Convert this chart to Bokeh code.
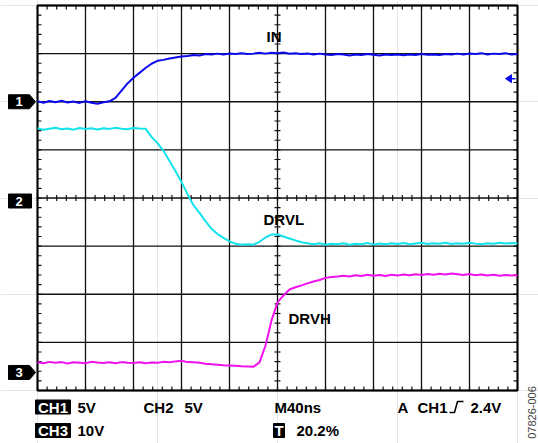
import numpy as np
from bokeh.plotting import figure
from bokeh.models import Range1d
from bokeh.core.properties import value
from bokeh.embed import file_html
from bokeh.resources import INLINE

# ---------------- data ----------------
time_ns = list(range(0, 401, 5))
ch1_in_v = [
    0.05, -0.10, 0.08, -0.05, 0.10, -0.08, 0.02, -0.12, 0.06, -0.10,
    -0.20, -0.05, 0.05, 0.40, 1.15, 1.90, 2.50, 3.00, 3.50, 3.95,
    4.25, 4.35, 4.50, 4.60, 4.70, 4.75, 4.85, 4.80, 4.95, 4.90,
    5.00, 4.90, 5.02, 4.95, 5.05, 4.95, 5.00, 5.08, 5.00, 5.10,
    5.05, 5.12, 4.98, 5.05, 4.95, 5.02, 4.90, 5.00, 4.92, 4.85,
    4.95, 4.90, 4.80, 4.90, 4.85, 4.95, 4.88, 4.80, 4.92, 4.85,
    4.90, 4.82, 4.90, 4.86, 4.95, 4.88, 4.92, 4.85, 4.95, 4.90,
    5.00, 4.92, 5.02, 4.95, 5.05, 4.90, 5.00, 4.95, 5.05, 4.90,
    4.95,
]
ch2_drvl_v = [
    7.25, 7.10, 7.20, 7.30, 7.15, 7.22, 7.10, 7.28, 7.18, 7.25,
    7.12, 7.25, 7.18, 7.30, 7.20, 7.15, 7.28, 7.22, 7.20, 6.35,
    5.70, 4.90, 3.85, 2.80, 1.65, 0.40, -0.75, -1.55, -2.40, -3.20,
    -3.75, -4.15, -4.50, -4.75, -4.85, -4.80, -4.85, -4.55, -4.10, -3.80,
    -3.80, -4.00, -4.20, -4.40, -4.60, -4.70, -4.80, -4.70, -4.85, -4.75,
    -4.80, -4.70, -4.85, -4.75, -4.80, -4.68, -4.82, -4.72, -4.80, -4.70,
    -4.78, -4.68, -4.80, -4.72, -4.66, -4.78, -4.70, -4.75, -4.65, -4.78,
    -4.70, -4.76, -4.66, -4.74, -4.80, -4.70, -4.75, -4.66, -4.72, -4.68,
    -4.72,
]
ch3_drvh_v = [
    2.10, 1.90, 2.20, 2.00, 2.15, 1.85, 2.10, 2.00, 1.90, 2.20,
    2.05, 1.95, 2.10, 1.90, 2.15, 2.00, 1.95, 2.10, 1.90, 2.05,
    2.00, 2.20, 2.10, 2.30, 2.45, 2.15, 2.10, 2.00, 1.80, 1.70,
    1.60, 1.50, 1.45, 1.40, 1.30, 1.25, 1.20, 2.10, 5.60, 10.80,
    14.55, 16.00, 17.25, 17.70, 18.10, 18.50, 18.90, 19.20, 19.65, 19.85,
    19.95, 20.10, 19.95, 20.20, 20.05, 20.30, 20.10, 20.25, 20.05, 20.30,
    20.15, 20.35, 20.20, 20.40, 20.25, 20.45, 20.30, 20.50, 20.35, 20.55,
    20.40, 20.25, 20.45, 20.20, 20.35, 20.15, 20.30, 20.10, 20.25, 20.15,
    20.20,
]
trace_names = ["IN", "DRVL", "DRVH"]
channel_ids = ["1", "2", "3"]
volts_per_div = [5, 5, 10]
ground_div = [6.0, 4.0, 0.375]
trace_colors = ["#0a0aec", "#12e4ec", "#f012ec"]
time_per_div_ns = 40
n_xdiv, n_ydiv = 10, 8
trigger_channel = 0
trigger_level_v = 2.4
status_row1 = [("CH1", True), ("5V", False), ("CH2", False), ("5V", False),
               ("M40ns", False), ("A", False), ("CH1", False), ("2.4V", False)]
status_row2 = [("CH3", True), ("10V", False), ("T", True), ("20.2%", False)]
figure_id = "07826-006"

# ---------------- layout helpers (picture pixel -> data) ----------------
W, H = 538, 443
FRAME_L, FRAME_T = 37, 5
PX_PER_NS = 1.2
PX_PER_DIV = 48.125


def X(px):
    return (px - FRAME_L) / PX_PER_NS


def Y(py):
    return n_ydiv - (py - FRAME_T) / PX_PER_DIV


dx = 1 / PX_PER_NS
dy = 1 / PX_PER_DIV
T_END = n_xdiv * time_per_div_ns

p = figure(width=W, height=H, output_backend="svg", toolbar_location=None,
           x_range=Range1d(X(0), X(W)), y_range=Range1d(Y(H), Y(0)),
           x_axis_location=None, y_axis_location=None, min_border=0)
p.outline_line_color = None
p.background_fill_color = "white"
p.border_fill_color = "white"

FONT = value("Liberation Sans")

# grid
gx = [i * time_per_div_ns for i in range(n_xdiv + 1)]
gy = list(range(n_ydiv + 1))
p.segment(x0=gx, y0=[0] * len(gx), x1=gx, y1=[n_ydiv] * len(gx),
          line_color="#111111", line_width=1.3)
p.segment(x0=[0] * len(gy), y0=gy, x1=[T_END] * len(gy), y1=gy,
          line_color="#111111", line_width=1.3)

# minor ticks (5 per division) on the border and on the centre lines
tx = [k * time_per_div_ns / 5 for k in range(n_xdiv * 5 + 1)]
ty = [k / 5 for k in range(n_ydiv * 5 + 1)]
tick = 4
x0s, y0s, x1s, y1s = [], [], [], []
for t in tx:
    x0s += [t, t, t]
    y0s += [n_ydiv, 0, n_ydiv / 2 - 3 * dy]
    x1s += [t, t, t]
    y1s += [n_ydiv - tick * dy, tick * dy, n_ydiv / 2 + 3 * dy]
for v in ty:
    x0s += [0, T_END, T_END / 2 - 3 * dx]
    y0s += [v, v, v]
    x1s += [tick * dx, T_END - tick * dx, T_END / 2 + 3 * dx]
    y1s += [v, v, v]
p.segment(x0=x0s, y0=y0s, x1=x1s, y1=y1s, line_color="#111111", line_width=1.2)

# frame border
p.rect(x=[T_END / 2], y=[n_ydiv / 2], width=[T_END], height=[n_ydiv],
       fill_color=None, line_color="black", line_width=2)

# traces
series = [ch1_in_v, ch2_drvl_v, ch3_drvh_v]
for vals, g, s, c in zip(series, ground_div, volts_per_div, trace_colors):
    yy = [g + v / s for v in vals]
    p.line(time_ns, yy, line_color=c, line_width=2.0)

# trace labels
lab_pos = [(266, 35.5), (263, 218.5), (288, 318)]
p.text(x=[X(a) for a, b in lab_pos], y=[Y(b) for a, b in lab_pos], text=trace_names,
       text_font=FONT, text_font_style="bold", text_font_size="15px",
       text_baseline="middle", text_align="left", text_color="black")

# channel ground markers
mxs, mys, mtx, mty = [], [], [], []
for i, g in enumerate(ground_div):
    cy = g if i != 1 else g - 3 * dy
    if i == 1:
        xs = [X(8), X(31), X(31), X(8)]
        ys = [cy + 7 * dy, cy + 7 * dy, cy - 7 * dy, cy - 7 * dy]
    else:
        xs = [X(8), X(29), X(35), X(29), X(8)]
        ys = [cy + 7 * dy, cy + 7 * dy, cy, cy - 7 * dy, cy - 7 * dy]
    mxs.append(xs)
    mys.append(ys)
    mtx.append(X(18.5))
    mty.append(cy)
p.patches(mxs, mys, fill_color="black", line_color="black")
p.text(x=mtx, y=mty, text=channel_ids, text_font=FONT, text_font_style="bold",
       text_font_size="13px", text_baseline="middle", text_align="center",
       text_color="white")

# trigger level marker (right edge)
trig_y = ground_div[trigger_channel] + trigger_level_v / volts_per_div[trigger_channel]
p.patch([X(505), X(511), X(511)], [trig_y, trig_y + 4 * dy, trig_y - 4 * dy],
        fill_color=trace_colors[0], line_color=trace_colors[0])
p.segment(x0=[X(511)], y0=[trig_y], x1=[X(515)], y1=[trig_y],
          line_color=trace_colors[0], line_width=1.5)

# status text
row1_x = [36, 77, 143, 184, 274, 397, 417, 470]
row2_x = [36, 77, 274, 296]
row1_y, row2_y = 406.5, 430
box_w = {"CH1": 35, "CH3": 35, "T": 11}
for row, xs_, yv in ((status_row1, row1_x, row1_y), (status_row2, row2_x, row2_y)):
    for (txt, boxed), xl in zip(row, xs_):
        if boxed:
            bw = box_w[txt]
            p.quad(left=[X(xl - 1)], right=[X(xl - 1 + bw)], top=[Y(yv - 7)],
                   bottom=[Y(yv + 7)], fill_color="black", line_color="black")
            p.text(x=[X(xl - 1 + bw / 2)], y=[Y(yv)], text=[txt], text_font=FONT,
                   text_font_style="bold", text_font_size="15px",
                   text_baseline="middle", text_align="center", text_color="white")
        else:
            p.text(x=[X(xl)], y=[Y(yv)], text=[txt], text_font=FONT,
                   text_font_style="bold", text_font_size="15px",
                   text_baseline="middle", text_align="left", text_color="black")

# rising-edge trigger symbol
ex = [449, 454, 457, 463]
ey = [412, 412, 401, 401]
p.line([X(a) for a in ex], [Y(b) for b in ey], line_color="black", line_width=1.5)

# figure id, rotated
p.text(x=[X(531)], y=[Y(412)], text=[figure_id], angle=np.pi / 2,
       text_font=FONT, text_font_size="11px", text_baseline="middle",
       text_align="center", text_color="#444444")

open("out.html", "w").write(file_html(p, INLINE))
